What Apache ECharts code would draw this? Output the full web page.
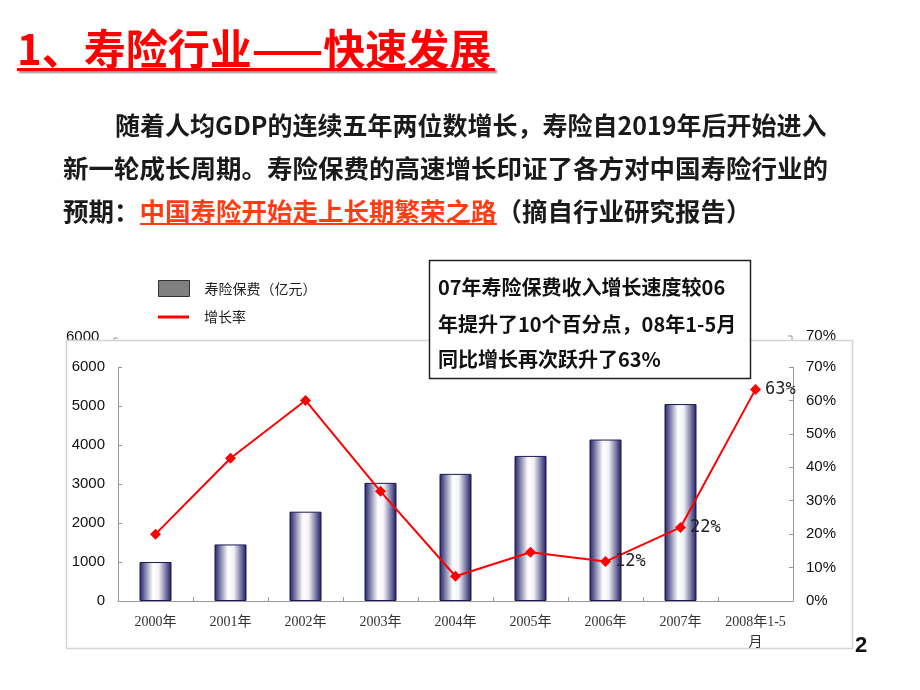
<!DOCTYPE html>
<html>
<head>
<meta charset="utf-8">
<script src="https://cdn.jsdelivr.net/npm/echarts@6/dist/echarts.min.js"></script>
<style>
html,body{margin:0;padding:0;background:#fff;}
#main{width:920px;height:690px;}
</style>
</head>
<body>
<div id="main"></div>
<script>
// ---- data ----
const categories = ['2000年','2001年','2002年','2003年','2004年','2005年','2006年','2007年','2008年1-5\n月'];
const premiums = [1000, 1450, 2290, 3030, 3260, 3720, 4140, 5050, null];
const growthRates = [20, 42.7, 60, 32.8, 7.4, 14.6, 11.8, 22, 63.3];
const labeledPoints = [6, 7, 8];
const seriesNames = ['寿险保费（亿元）', '增长率'];
const titleText = '1、寿险行业——快速发展';
const paraLine1 = '随着人均GDP的连续五年两位数增长，寿险自2019年后开始进入';
const paraLine2 = '新一轮成长周期。寿险保费的高速增长印证了各方对中国寿险行业的';
const paraLine3a = '预期：';
const paraLine3red = '中国寿险开始走上长期繁荣之路';
const paraLine3b = '（摘自行业研究报告）';
const noteLines = ['07年寿险保费收入增长速度较06', '年提升了10个百分点，08年1-5月', '同比增长再次跃升了63%'];

const CJK = '"Noto Sans CJK SC", "Noto Sans", sans-serif';
const chart = echarts.init(document.getElementById('main'), null, {renderer: 'canvas'});

const barGradient = new echarts.graphic.LinearGradient(0, 0, 1, 0, [
  {offset: 0, color: '#202068'},
  {offset: 0.42, color: '#ffffff'},
  {offset: 0.6, color: '#f2f2f7'},
  {offset: 1, color: '#1a1a62'}
]);

const option = {
  backgroundColor: '#ffffff',
  animation: false,
  grid: {left: 118, right: 127, top: 367, bottom: 89},
  legend: [
    {
      data: [{name: seriesNames[0], icon: 'rect', itemStyle: {color: '#808080', borderColor: '#333', borderWidth: 1}}],
      orient: 'vertical', left: 153, top: 275, itemWidth: 31, itemHeight: 16,
      selectedMode: false,
      textStyle: {fontFamily: CJK, fontSize: 14, color: '#222', padding: [0, 0, 0, 10]}
    },
    {
      data: [{name: seriesNames[1], icon: 'rect', itemStyle: {color: '#ff0000', borderWidth: 0}}],
      orient: 'vertical', left: 153, top: 305, itemWidth: 31, itemHeight: 3,
      selectedMode: false,
      textStyle: {fontFamily: CJK, fontSize: 14, color: '#222', padding: [0, 0, 0, 10]}
    }
  ],
  xAxis: {
    type: 'category',
    data: categories,
    boundaryGap: true,
    axisLine: {lineStyle: {color: '#999', width: 1}},
    axisTick: {show: true, inside: true, length: 4, lineStyle: {color: '#999'}},
    axisLabel: {interval: 0, margin: 11, fontSize: 14, color: '#333', lineHeight: 20,
      fontFamily: '"Liberation Serif", "Noto Sans CJK SC", serif'}
  },
  yAxis: [
    {
      type: 'value', min: 0, max: 6000, interval: 1000,
      axisLine: {show: true, lineStyle: {color: '#999'}},
      axisTick: {show: true, inside: true, length: 4, lineStyle: {color: '#999'}},
      splitLine: {show: false},
      axisLabel: {fontSize: 15, color: '#111', margin: 13, formatter: v => String(v),
        fontFamily: '"Liberation Sans", Arial, sans-serif'}
    },
    {
      type: 'value', min: 0, max: 70, interval: 10, position: 'right',
      axisLine: {show: true, lineStyle: {color: '#999'}},
      axisTick: {show: true, inside: true, length: 4, lineStyle: {color: '#999'}},
      splitLine: {show: false},
      axisLabel: {fontSize: 15, color: '#111', margin: 13, formatter: '{value}%',
        fontFamily: '"Liberation Sans", Arial, sans-serif'}
    }
  ],
  series: [
    {
      name: seriesNames[0],
      type: 'bar',
      data: premiums,
      barWidth: 32,
      itemStyle: {color: barGradient, borderColor: '#1a1a55', borderWidth: 1}
    },
    {
      name: seriesNames[1],
      type: 'line',
      yAxisIndex: 1,
      data: growthRates.map((v, i) => ({
        value: v,
        label: {show: labeledPoints.includes(i)}
      })),
      symbol: 'diamond',
      symbolSize: 11,
      lineStyle: {color: '#ff0000', width: 2},
      itemStyle: {color: '#ff0000'},
      label: {
        position: 'right', distance: 4,
        formatter: p => Math.round(p.value) + '%',
        fontSize: 17, color: '#222',
        fontFamily: '"DejaVu Sans Mono", "Liberation Mono", monospace'
      },
      z: 5
    }
  ],
  graphic: [
    // ghost axis labels behind frame
    {type: 'text', z: -3, style: {x: 66, y: 337, text: '6000', fill: '#111',
      font: '15px "Liberation Sans", Arial', verticalAlign: 'middle'}},
    {type: 'text', z: -3, style: {x: 806, y: 336, text: '70%', fill: '#111',
      font: '15px "Liberation Sans", Arial', verticalAlign: 'middle'}},
    {type: 'polyline', z: -3, shape: {points: [[114, 343], [114, 338], [118, 338]]}, style: {stroke: '#999', lineWidth: 1, fill: null}},
    {type: 'polyline', z: -3, shape: {points: [[788, 336], [792, 336], [792, 342]]}, style: {stroke: '#999', lineWidth: 1, fill: null}},
    // frame
    {type: 'rect', z: -2, shape: {x: 66.5, y: 340.5, width: 786, height: 308},
      style: {fill: '#ffffff', stroke: '#d4d4d4', lineWidth: 1.5}},
    // title
    {type: 'text', z: 10, style: {x: 17, y: 49, text: titleText, fill: '#ff0000',
      font: 'bold 42px "Noto Sans CJK SC"', verticalAlign: 'middle',
      shadowColor: 'rgba(0,0,0,0.45)', shadowOffsetX: 2, shadowOffsetY: 2, shadowBlur: 2}},
    {type: 'rect', z: 10, shape: {x: 17, y: 68, width: 478, height: 3},
      style: {fill: '#ff0000', shadowColor: 'rgba(0,0,0,0.45)', shadowOffsetX: 2, shadowOffsetY: 2, shadowBlur: 2}},
    // paragraph
    {type: 'text', z: 10, style: {x: 115, y: 125, text: paraLine1, fill: '#1a1a1a',
      font: 'bold 25px "Noto Sans CJK SC"', verticalAlign: 'middle'}},
    {type: 'text', z: 10, style: {x: 63, y: 168, text: paraLine2, fill: '#1a1a1a',
      font: 'bold 25.5px "Noto Sans CJK SC"', verticalAlign: 'middle'}},
    {type: 'text', z: 10, style: {x: 63, y: 211, text: '{a|' + paraLine3a + '}{r|' + paraLine3red + '}{a|' + paraLine3b + '}',
      verticalAlign: 'middle',
      rich: {
        a: {fontFamily: 'Noto Sans CJK SC', fontWeight: 'bold', fontSize: 25.5, fill: '#1a1a1a', color: '#1a1a1a'},
        r: {fontFamily: 'Noto Sans CJK SC', fontWeight: 'bold', fontSize: 25.5, fill: '#ff3c14', color: '#ff3c14'}
      }}},
    {type: 'rect', z: 10, shape: {x: 140, y: 223, width: 357, height: 2}, style: {fill: '#ff3c14'}},
    // annotation box
    {type: 'rect', z: 20, shape: {x: 429.5, y: 260.5, width: 321, height: 118},
      style: {fill: '#ffffff', stroke: '#222', lineWidth: 1.5}},
    {type: 'text', z: 21, style: {x: 438, y: 287, text: noteLines[0], fill: '#111',
      font: 'bold 20px "Noto Sans CJK SC"', verticalAlign: 'middle'}},
    {type: 'text', z: 21, style: {x: 438, y: 324, text: noteLines[1], fill: '#111',
      font: 'bold 20px "Noto Sans CJK SC"', verticalAlign: 'middle'}},
    {type: 'text', z: 21, style: {x: 438, y: 359, text: noteLines[2], fill: '#111',
      font: 'bold 20px "Noto Sans CJK SC"', verticalAlign: 'middle'}},
    // page number
    {type: 'text', z: 10, style: {x: 855, y: 646, text: '2', fill: '#111',
      font: 'bold 22px "Liberation Sans", Arial', verticalAlign: 'middle'}}
  ]
};
chart.setOption(option);
</script>
</body>
</html>
